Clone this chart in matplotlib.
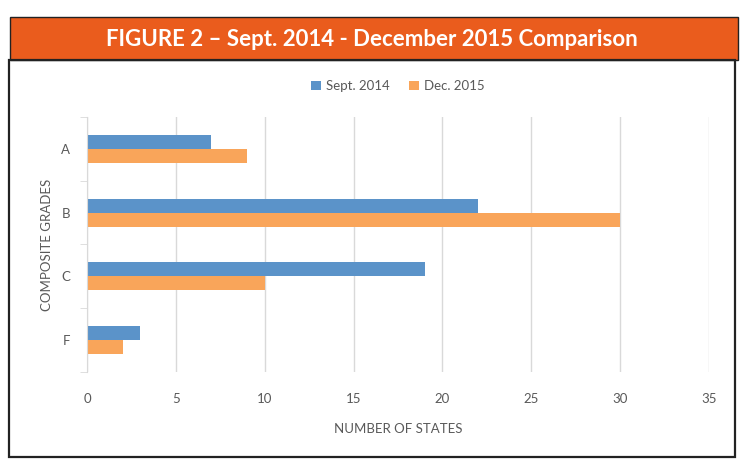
import numpy as np
import matplotlib
matplotlib.use('Agg')
import matplotlib.pyplot as plt
from matplotlib.patches import Rectangle

grades = ['A', 'B', 'C', 'F']
sept_2014 = [7, 22, 19, 3]
dec_2015 = [9, 30, 10, 2]
xticks = [0, 5, 10, 15, 20, 25, 30, 35]

blue = '#5B93C9'
orange = '#F9A55A'
gray = '#595959'

plt.rcParams['font.family'] = ['Lato', 'DejaVu Sans']

fig = plt.figure(figsize=(7.5, 4.69), dpi=100)
fig.patch.set_facecolor('white')

# orange banner + black frame
fig.add_artist(Rectangle((10/750, 1-60/469), 728/750, 43/469, transform=fig.transFigure,
                         facecolor='#EA5C1D', edgecolor='#222222', lw=1))
fig.add_artist(Rectangle((9/750, 1-457/469), 726/750, 397/469, transform=fig.transFigure,
                         facecolor='none', edgecolor='#222222', lw=1.6))
fig.text(0.496, 1-40/469, 'FIGURE 2 \u2013 Sept. 2014 - December 2015 Comparison',
         color='white', fontsize=16, fontweight='bold', ha='center', va='center')

ax = fig.add_axes([87/750, 1-372/469, 622/750, 255/469])
y = np.arange(len(grades))
h = 0.22
ax.barh(y - h/2, sept_2014, height=h, color=blue, label='Sept. 2014')
ax.barh(y + h/2, dec_2015, height=h, color=orange, label='Dec. 2015')

ax.set_ylim(3.5, -0.5)
ax.set_xlim(0, 35)
ax.set_xticks(xticks)
ax.set_yticks(y)
ax.set_yticklabels(grades)
ax.set_yticks(np.arange(-0.5, 4, 1), minor=True)
ax.grid(axis='x', color='#D9D9D9', lw=1)
ax.set_axisbelow(True)
for s in ['top', 'right', 'bottom']:
    ax.spines[s].set_visible(False)
ax.spines['left'].set_color('#D9D9D9')
ax.tick_params(axis='x', length=0, pad=15, colors=gray, labelsize=9.5)
ax.tick_params(axis='y', which='major', length=0, pad=12, colors=gray, labelsize=9.5)
ax.tick_params(axis='y', which='minor', length=5, color='#D9D9D9')

ax.set_xlabel('NUMBER OF STATES', color=gray, fontsize=9.5, labelpad=13)
ax.set_ylabel('COMPOSITE GRADES', color=gray, fontsize=9.5, labelpad=6)

ax.legend(loc='lower center', bbox_to_anchor=(0.5, 1.05), ncol=2, frameon=False,
          fontsize=9.5, labelcolor=gray, handlelength=0.7, handleheight=0.7,
          columnspacing=1.5, handletextpad=0.4)

fig.savefig('out.png', dpi=100)
